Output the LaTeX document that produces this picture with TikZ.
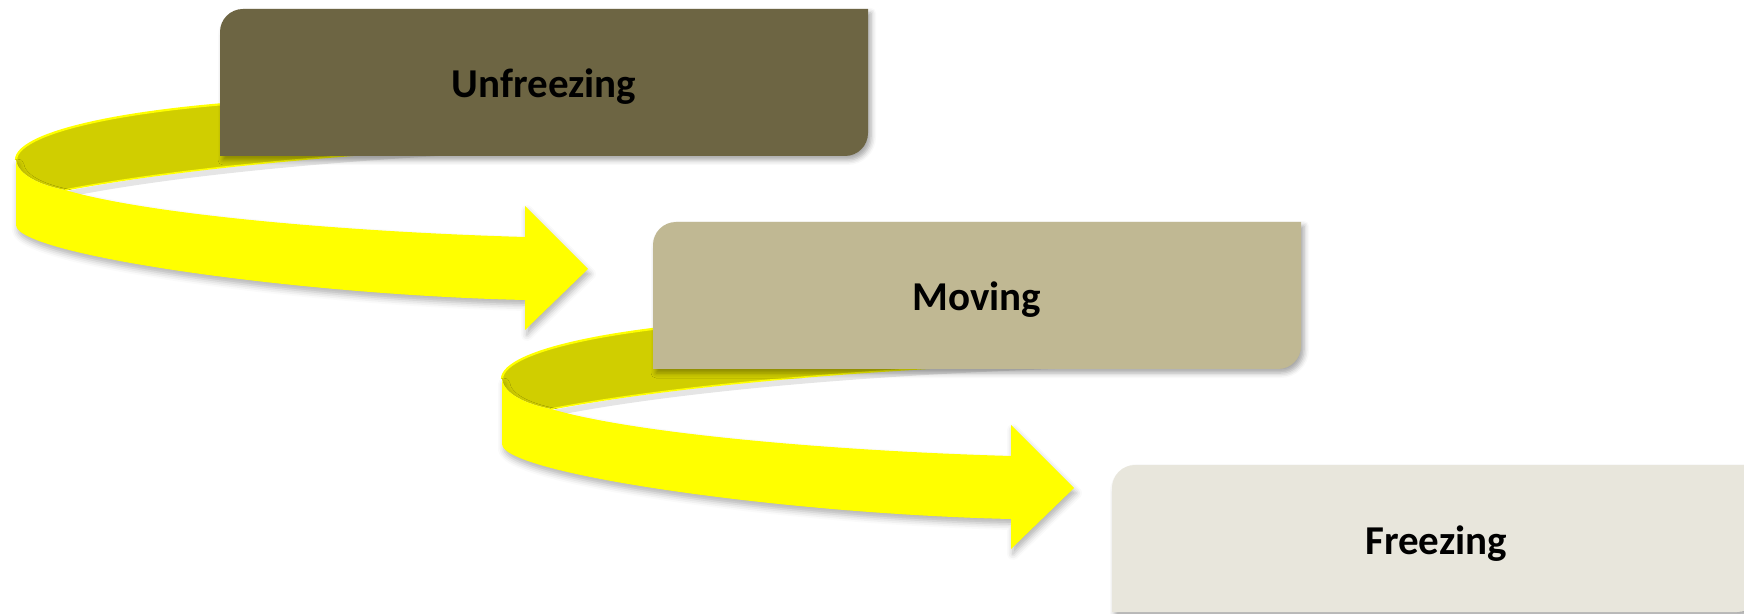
\documentclass[tikz,border=0pt]{standalone}
\usepackage{fontspec}
\setmainfont{Carlito}
\usetikzlibrary{shadows.blur}

\definecolor{stageA}{HTML}{6D6543}
\definecolor{stageB}{HTML}{C0B893}
\definecolor{stageC}{HTML}{E8E6DC}
\definecolor{ribbonFront}{HTML}{FFFF00}
\definecolor{ribbonBack}{HTML}{D0CE00}

\tikzset{
  boxshadow/.style={blur shadow={shadow xshift=1.5pt, shadow yshift=-2pt,
      shadow blur radius=2.5pt, shadow opacity=35}},
  ribbonfront/.style={fill=ribbonFront, blur shadow={shadow xshift=1pt,
      shadow yshift=-2.5pt, shadow blur radius=3pt, shadow opacity=30}},
  ribbonback/.style={fill=ribbonBack},
  rim/.style={draw=ribbonFront, line width=1.1pt},
  rimshade/.style={draw=black, opacity=0.10, line width=3pt},
  stagetext/.style={font=\bfseries\fontsize{20.5}{24}\selectfont,
      text=black, inner sep=0pt, anchor=base},
}

% A stage box: square top-right and bottom-left corners, rounded otherwise.
% #1,#2 = top-left corner, #3 = fill colour, #4 = node name, #5 = label
\newcommand\StageBox[5]{%
  \fill[#3, boxshadow] (#1,#2+147) -- (#1,#2+23)
     .. controls (#1,#2+10.3) and (#1+10.3,#2) .. (#1+23,#2)
     -- (#1+648,#2) -- (#1+648,#2+124)
     .. controls (#1+648,#2+136.7) and (#1+637.7,#2+147) .. (#1+625,#2+147)
     -- cycle;
  \node[stagetext] (#4) at (#1+324,#2+89) {#5};
}

% A curled ribbon arrow; #1,#2 = offset of the whole ribbon
\newcommand\CurlArrow[2]{%
  \begin{scope}[shift={(#1,#2)}]
    % inner surface of the far half of the curl (its right end runs under a box)
    \fill[ribbonback] (620,95) -- (380,97)
       .. controls (150,100) and (16,130) .. (16,160)
       .. controls (18,175) and (40,185) .. (65,190)
       .. controls (180,168) and (380,148) .. (620,142)
       -- cycle;
    \draw[rimshade] (70,193.5) .. controls (180,171.5) and (380,151.5) .. (620,145.5);
    \draw[rim] (380,97) .. controls (150,100) and (16,130) .. (16,160);
    \draw[rim, line width=0.8pt] (65,190) .. controls (180,168) and (380,148) .. (620,142);
    % near half of the curl with the arrow head
    \fill[ribbonfront] (16,160) -- (16,225)
       .. controls (16,255) and (300,295) .. (525,300)
       -- (525,330) -- (588,269) -- (525,206) -- (525,237)
       .. controls (350,232) and (150,215) .. (65,190)
       .. controls (40,185) and (18,175) .. (16,160) -- cycle;
  \end{scope}}

\begin{document}
\begin{tikzpicture}[x=0.5pt, y=-0.5pt]
  \useasboundingbox (0,0) rectangle (1744,614);
  \clip (0,0) rectangle (1744,614);

  \CurlArrow{0}{0}
  \StageBox{220}{9}{stageA}{unfreezing}{Unfreezing}

  \CurlArrow{486}{219}
  \StageBox{653}{222}{stageB}{moving}{Moving}

  \StageBox{1112}{465}{stageC}{freezing}{Freezing}
\end{tikzpicture}
\end{document}
